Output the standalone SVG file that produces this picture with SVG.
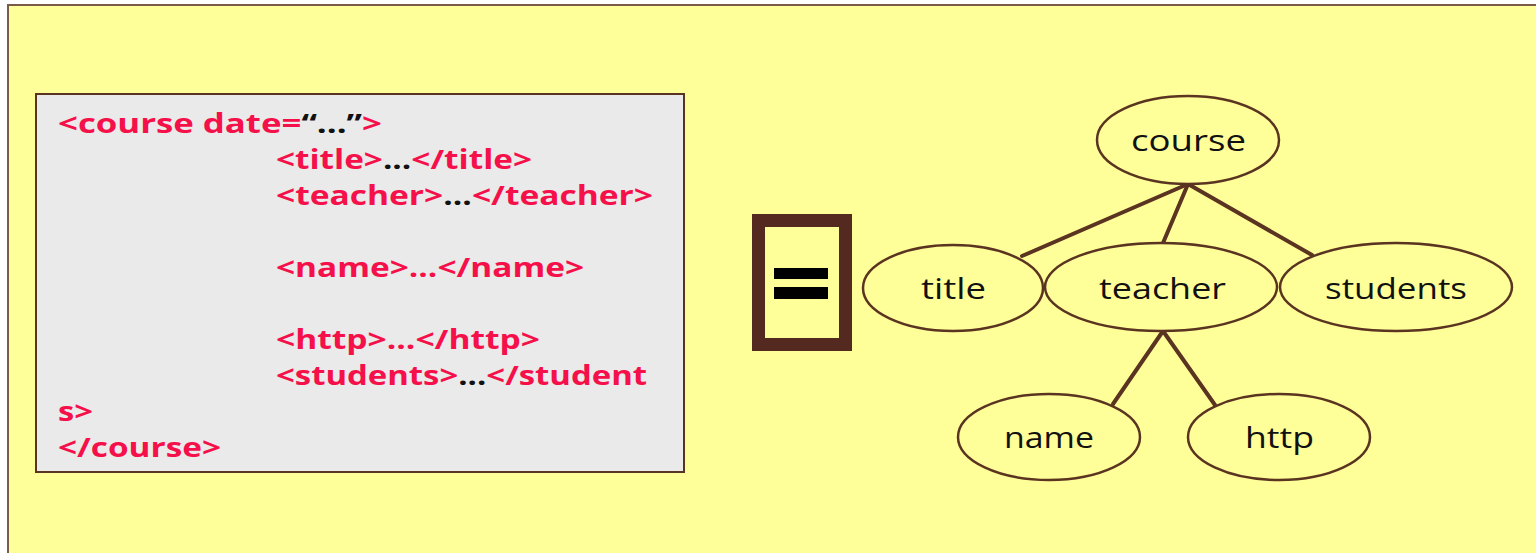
<svg xmlns="http://www.w3.org/2000/svg" width="1536" height="553" viewBox="0 0 1536 553">
  <style>
    .code { font-family: "Open Sans", Lato, "Liberation Sans", sans-serif; font-weight: bold; font-size: 26px; fill: #F5104A; }
    .dots { fill: #111111; }
    .node ellipse { fill: #FFFF99; stroke: #5A3420; stroke-width: 2.5; }
    .node text { font-family: "Open Sans", Lato, "Liberation Sans", sans-serif; font-size: 29px; font-weight: 500; fill: #111111; }
    .edge { stroke: #5A3420; stroke-width: 4; stroke-linecap: round; }
  </style>
  <rect x="0" y="0" width="1536" height="553" fill="#FFFFFF"/>
  <rect id="panel" x="8" y="5" width="1540" height="560" fill="#FFFF99" stroke="#7A5A4A" stroke-width="2"/>

  <g id="code-box">
    <rect x="36" y="94" width="648" height="378" fill="#EAEAEA" stroke="#5A3420" stroke-width="2"/>
    <text class="code" x="58" y="133" textLength="324" lengthAdjust="spacingAndGlyphs">&lt;course date=<tspan class="dots">“...”</tspan>&gt;</text>
    <text class="code" x="276" y="169" textLength="256" lengthAdjust="spacingAndGlyphs">&lt;title&gt;<tspan class="dots">...</tspan>&lt;/title&gt;</text>
    <text class="code" x="276" y="205" textLength="377" lengthAdjust="spacingAndGlyphs">&lt;teacher&gt;<tspan class="dots">...</tspan>&lt;/teacher&gt;</text>
    <text class="code" x="276" y="277" textLength="308" lengthAdjust="spacingAndGlyphs">&lt;name&gt;...&lt;/name&gt;</text>
    <text class="code" x="276" y="349" textLength="264" lengthAdjust="spacingAndGlyphs">&lt;http&gt;...&lt;/http&gt;</text>
    <text class="code" x="276" y="385" textLength="371" lengthAdjust="spacingAndGlyphs">&lt;students&gt;<tspan class="dots">...</tspan>&lt;/student</text>
    <text class="code" x="58" y="421" textLength="35" lengthAdjust="spacingAndGlyphs">s&gt;</text>
    <text class="code" x="58" y="457" textLength="163" lengthAdjust="spacingAndGlyphs">&lt;/course&gt;</text>
  </g>

  <g id="equals">
    <rect x="758.5" y="220.5" width="87" height="124" fill="none" stroke="#54291F" stroke-width="13"/>
    <rect x="774" y="268" width="54" height="11" fill="#000000"/>
    <rect x="774" y="287" width="54" height="12" fill="#000000"/>
  </g>

  <g id="connectors">
    <line class="edge" x1="1188" y1="184" x2="1022" y2="256"/>
    <line class="edge" x1="1188" y1="184" x2="1163" y2="243"/>
    <line class="edge" x1="1188" y1="184" x2="1312" y2="255"/>
    <line class="edge" x1="1163" y1="331" x2="1113" y2="404"/>
    <line class="edge" x1="1163" y1="331" x2="1215" y2="405"/>
  </g>

  <g id="node-course" class="node">
    <ellipse cx="1188" cy="140" rx="91" ry="44"/>
    <text x="1131" y="151" textLength="115" lengthAdjust="spacingAndGlyphs">course</text>
  </g>
  <g id="node-title" class="node">
    <ellipse cx="953" cy="288" rx="90" ry="43"/>
    <text x="921" y="299" textLength="65" lengthAdjust="spacingAndGlyphs">title</text>
  </g>
  <g id="node-teacher" class="node">
    <ellipse cx="1161" cy="287" rx="116" ry="44"/>
    <text x="1099" y="299" textLength="127" lengthAdjust="spacingAndGlyphs">teacher</text>
  </g>
  <g id="node-students" class="node">
    <ellipse cx="1396" cy="287" rx="116" ry="44"/>
    <text x="1325" y="299" textLength="142" lengthAdjust="spacingAndGlyphs">students</text>
  </g>
  <g id="node-name" class="node">
    <ellipse cx="1049" cy="437" rx="91" ry="43"/>
    <text x="1004" y="448" textLength="90" lengthAdjust="spacingAndGlyphs">name</text>
  </g>
  <g id="node-http" class="node">
    <ellipse cx="1279" cy="437" rx="91" ry="43"/>
    <text x="1245" y="448" textLength="69" lengthAdjust="spacingAndGlyphs">http</text>
  </g>
</svg>
